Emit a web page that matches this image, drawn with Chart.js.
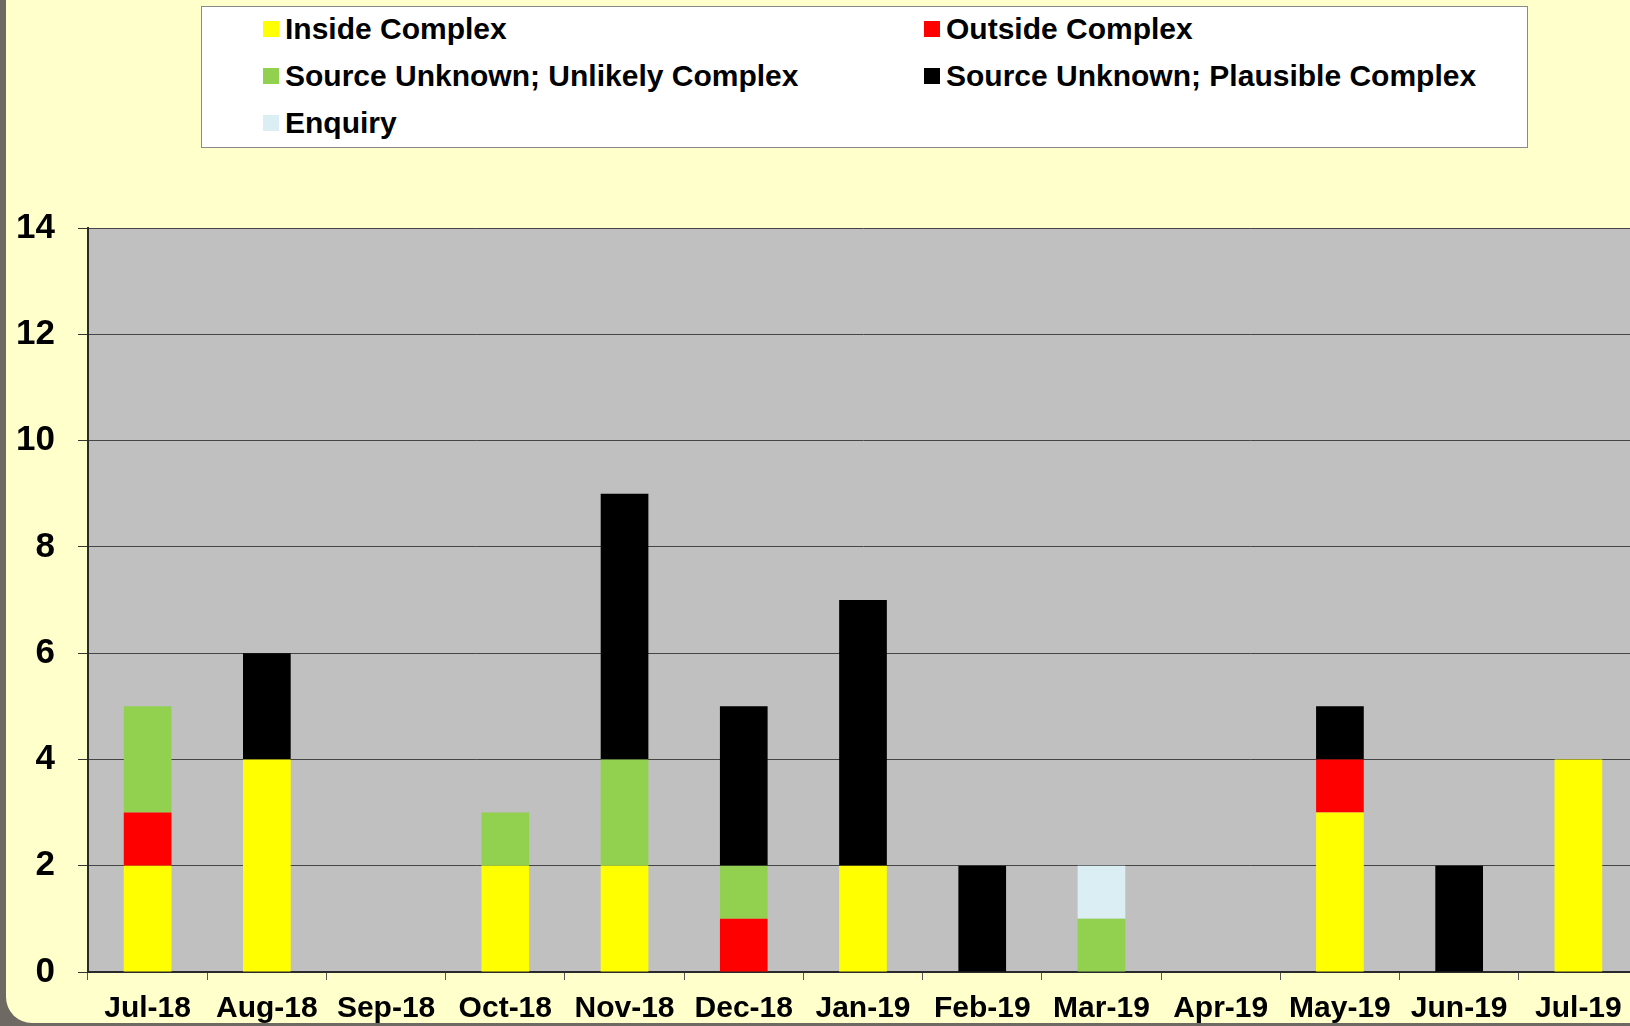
<!DOCTYPE html>
<html>
<head>
<meta charset="utf-8">
<script src="https://cdn.jsdelivr.net/npm/chart.js@4.4.0/dist/chart.umd.min.js"></script>
<style>
    html, body { margin: 0; padding: 0; overflow: hidden; }
    body { width: 1630px; height: 1026px; background: #6e6a63; position: relative; font-family: "Liberation Sans", Arial, sans-serif; }
    #panel { position: absolute; left: 6px; top: -40px; width: 1700px; height: 1063px; background: #FFFFCC; border-bottom-left-radius: 26px; }
    #chart { position: absolute; left: 0; top: 0; }
    #legend {
        position: absolute; left: 201px; top: 6px; width: 1325px; height: 140px;
        background: #fff; border: 1px solid #8a8a8a; box-sizing: content-box;
    }
    .item { position: absolute; display: flex; align-items: center; font-weight: bold; font-size: 30px; color: #000; white-space: nowrap; }
    .item span.box { width: 16px; height: 16px; margin-right: 6px; display: inline-block; }
</style>
</head>
<body>
<div id="panel"></div>
<canvas id="chart" width="1638" height="1026"></canvas>
<div id="legend"></div>
<script>
// --- Data ---
const months = ['Jul-18', 'Aug-18', 'Sep-18', 'Oct-18', 'Nov-18', 'Dec-18', 'Jan-19',
                'Feb-19', 'Mar-19', 'Apr-19', 'May-19', 'Jun-19', 'Jul-19'];

const insideComplex    = [2, 4, 0, 2, 2, 0, 2, 0, 0, 0, 3, 0, 4];
const outsideComplex   = [1, 0, 0, 0, 0, 1, 0, 0, 0, 0, 1, 0, 0];
const unlikelyComplex  = [2, 0, 0, 1, 2, 1, 0, 0, 1, 0, 0, 0, 0];
const plausibleComplex = [0, 2, 0, 0, 5, 3, 5, 2, 0, 0, 1, 2, 0];
const enquiry          = [0, 0, 0, 0, 0, 0, 0, 0, 1, 0, 0, 0, 0];

const seriesLabels = ['Inside Complex', 'Outside Complex', 'Source Unknown; Unlikely Complex',
                      'Source Unknown; Plausible Complex', 'Enquiry'];
const seriesColors = ['#FFFF00', '#FF0000', '#92D050', '#000000', '#DAEEF3'];
const seriesValues = [insideComplex, outsideComplex, unlikelyComplex, plausibleComplex, enquiry];

const yTicks = { min: 0, max: 14, step: 2 };

// plot background (grey)
const plotBg = {
    id: 'plotBg',
    beforeDraw(chart) {
        const { ctx, chartArea: a } = chart;
        ctx.save();
        ctx.fillStyle = '#C0C0C0';
        ctx.fillRect(a.left, a.top, a.right - a.left, a.bottom - a.top);
        ctx.restore();
    }
};

const datasets = seriesLabels.map((label, i) => ({
    label: label,
    data: seriesValues[i],
    backgroundColor: seriesColors[i],
    borderWidth: 0,
    barPercentage: 0.40,
    categoryPercentage: 1.0
}));

const chart = new Chart(document.getElementById('chart'), {
    type: 'bar',
    data: { labels: months, datasets: datasets },
    options: {
        responsive: false,
        devicePixelRatio: 1,
        animation: false,
        layout: { padding: { top: 228, left: 0, right: 0, bottom: 0 } },
        plugins: {
            legend: { display: false },
            tooltip: { enabled: false }
        },
        scales: {
            x: {
                stacked: true,
                afterFit: s => { s.height = 54; },
                grid: {
                    drawOnChartArea: false,
                    tickLength: 8,
                    tickColor: '#555',
                    offset: true
                },
                border: { color: '#2a2a2a', width: 2 },
                ticks: {
                    color: '#000',
                    padding: 11,
                    maxRotation: 0,
                    autoSkip: false,
                    font: { family: '"Liberation Sans", Arial, sans-serif', size: 30, weight: 'bold' }
                }
            },
            y: {
                stacked: true,
                min: yTicks.min,
                max: yTicks.max,
                afterFit: s => { s.width = 88; },
                grid: {
                    color: '#454545',
                    lineWidth: 1,
                    tickLength: 10,
                    tickColor: '#333'
                },
                border: { color: '#2a2a2a', width: 2 },
                ticks: {
                    stepSize: yTicks.step,
                    color: '#000',
                    padding: 23,
                    font: { family: '"Liberation Sans", Arial, sans-serif', size: 35, weight: 'bold' }
                }
            }
        }
    },
    plugins: [plotBg]
});

// HTML legend in two columns, built from the chart's datasets
const legendEl = document.getElementById('legend');
const colX = [61, 722];
const rowY = [22, 69, 116];
chart.data.datasets.forEach((ds, i) => {
    const item = document.createElement('div');
    item.className = 'item';
    item.style.left = colX[i % 2] + 'px';
    item.style.top = (rowY[Math.floor(i / 2)] - 18) + 'px';
    item.style.height = '36px';
    item.innerHTML = '<span class="box" style="background:' + ds.backgroundColor + '"></span>' + ds.label;
    legendEl.appendChild(item);
});
</script>
</body>
</html>
